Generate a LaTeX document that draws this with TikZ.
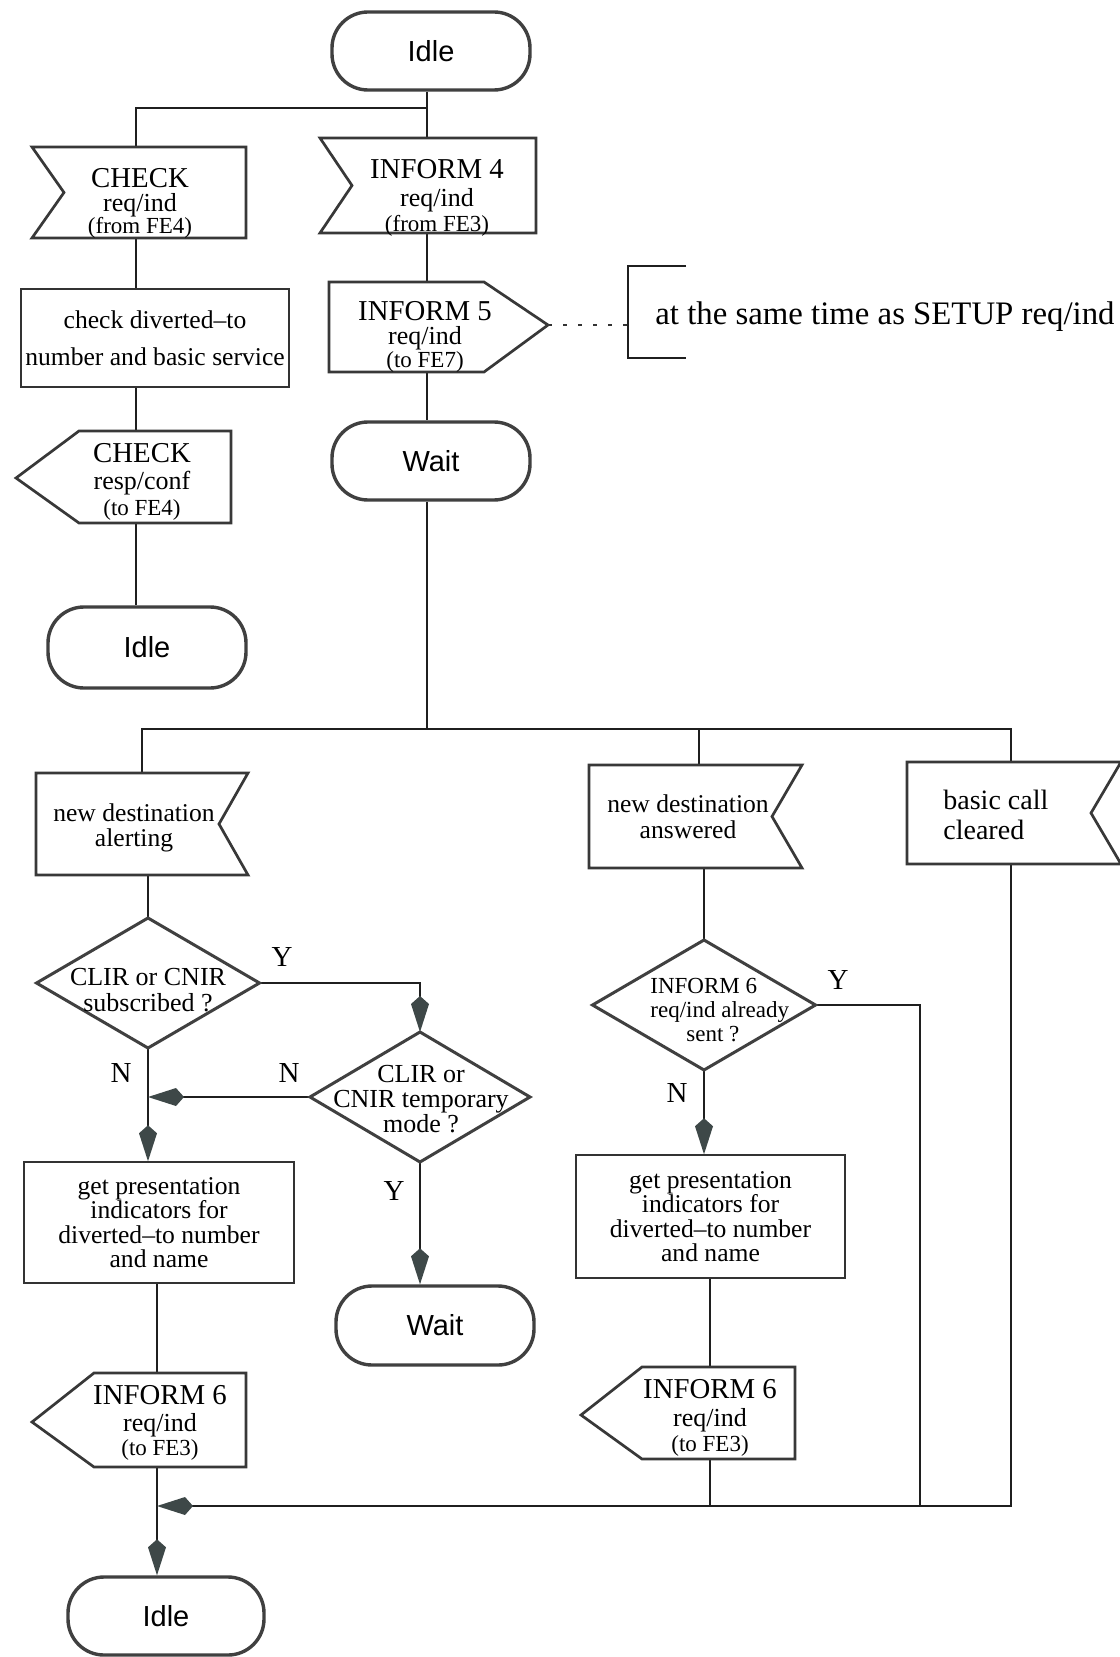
\documentclass[tikz,border=0pt]{standalone}
\usepackage{fontspec}
\setmainfont{Liberation Serif}
\setsansfont{Liberation Sans}
\usetikzlibrary{calc,arrows.meta}

\definecolor{tipgray}{RGB}{62,72,72}

% three-line signal labels: message name, primitive, peer entity
\newcommand{\SigHead}[1]{{\fontsize{14.4}{11}\selectfont #1}}
\newcommand{\SigSub}[1]{{\fontsize{13}{11}\selectfont #1}}
\newcommand{\SigNote}[1]{{\fontsize{11.5}{11}\selectfont #1}}
% fixed line spacing, even where lines come close
\newcommand{\FixedLead}{\lineskiplimit-20pt\relax}

% SDL symbol outlines drawn around a named geometry node
\newcommand{\InNotchL}[2]{\draw[sigline] (#1.north west) -- (#1.north east) -- (#1.south east) -- (#1.south west) -- ($(#1.west)+(#2,0)$) -- cycle;}
\newcommand{\InNotchR}[2]{\draw[sigline] (#1.north west) -- (#1.north east) -- ($(#1.east)+(-#2,0)$) -- (#1.south east) -- (#1.south west) -- cycle;}
\newcommand{\OutTipL}[2]{\draw[sigline] (#2) -- (#1.north west) -- (#1.north east) -- (#1.south east) -- (#1.south west) -- cycle;}
\newcommand{\OutTipR}[2]{\draw[sigline] (#1.north west) -- (#1.north east) -- (#2) -- (#1.south east) -- (#1.south west) -- cycle;}
\newcommand{\Rhombus}[1]{\draw[diamline] (#1.north) -- (#1.east) -- (#1.south) -- (#1.west) -- cycle;}

\tikzset{
  geo/.style={inner sep=0pt, outer sep=0pt},
  sigline/.style={draw=black!78, line width=1.35pt, line join=miter},
  diamline/.style={draw=black!75, line width=1.5pt, line join=miter},
  procbox/.style={draw=black!80, line width=0.75pt, inner sep=0pt, align=center,
    font=\fontsize{12.8}{12.2}\selectfont},
  term/.style={draw=black!75, line width=1.7pt, rounded corners=18pt, inner sep=0pt,
    font=\sffamily\fontsize{14.5}{16}\selectfont},
  conn/.style={draw=black!88, line width=1pt},
  arr/.style={conn, -{Kite[length=18pt, width=9pt, inset=4pt, color=tipgray]}},
  sigtext/.style={align=center, inner sep=0pt},
  lead/.style={font=\fontsize{12.5}{#1}\selectfont\FixedLead},
  labtext/.style={align=center, inner sep=0pt, font=\fontsize{12.8}{12.8}\selectfont},
  diamtext/.style={align=center, inner sep=0pt, font=\fontsize{13}{12.8}\selectfont},
  yn/.style={inner sep=0pt, font=\fontsize{14.5}{16}\selectfont},
  note/.style={anchor=west, inner sep=0pt, font=\fontsize{16.4}{18}\selectfont},
  dots/.style={draw=black!80, line width=1pt, dash pattern=on 2pt off 5.5pt},
}

\begin{document}
\begin{tikzpicture}[x=0.5pt, y=-0.5pt]
\useasboundingbox (0,0) rectangle (1119,1657);
\fill[white] (0,0) rectangle (1119,1657);

% x positions of the vertical flow lines
\coordinate (xA) at (136,0);
\coordinate (xB) at (427,0);
\coordinate (xC) at (142,0);
\coordinate (xL) at (157,0);
\coordinate (xE) at (699,0);
\coordinate (xR) at (710,0);
\coordinate (xF) at (920,0);
\coordinate (xG) at (1011,0);
\coordinate (j1) at (427,108);
\coordinate (j2) at (427,729);
\coordinate (mrg) at (157,1506);

% pointed ends of output signals
\coordinate (inf5-tip) at (548,325);
\coordinate (resp-tip) at (16,478);
\coordinate (inf6l-tip) at (32,1422);
\coordinate (inf6r-tip) at (581,1415);
\coordinate (brk) at (628,325);

% ---------- states ----------
\node[term, minimum width=99pt, minimum height=39pt] (idle1) at (431,51) {Idle};
\node[term, minimum width=99pt, minimum height=39pt] (wait1) at (431,461) {Wait};
\node[term, minimum width=99pt, minimum height=40.5pt] (idle2) at (147,647.5) {Idle};
\node[term, minimum width=99pt, minimum height=39.5pt] (wait2) at (435,1325.5) {Wait};
\node[term, minimum width=98pt, minimum height=39pt] (idle3) at (166,1616) {Idle};

% ---------- signal and decision geometry ----------
\node[geo, minimum width=107pt, minimum height=45.5pt] (chk) at (139,192.5) {};
\node[geo, minimum width=108pt, minimum height=47.5pt] (inf4) at (428,185.5) {};
\node[geo, minimum width=77.5pt, minimum height=45pt] (inf5) at (406.5,327) {};
\node[geo, minimum width=76pt, minimum height=46pt] (resp) at (155,477) {};
\node[geo, minimum width=106pt, minimum height=51pt] (alert) at (142,824) {};
\node[geo, minimum width=106.5pt, minimum height=51.5pt] (answ) at (695.5,816.5) {};
\node[geo, minimum width=107pt, minimum height=51pt] (bcc) at (1014,813) {};
\node[geo, minimum width=111.5pt, minimum height=65pt] (d1) at (148,983) {};
\node[geo, minimum width=110pt, minimum height=65pt] (d2) at (420,1097) {};
\node[geo, minimum width=111.5pt, minimum height=65pt] (d3) at (704,1005) {};
\node[geo, minimum width=76pt, minimum height=47pt] (inf6l) at (170,1420) {};
\node[geo, minimum width=76.5pt, minimum height=46pt] (inf6r) at (718.5,1413) {};

% ---------- tasks ----------
\node[procbox, minimum width=134pt, minimum height=49pt,
  font=\fontsize{12.8}{18.5}\selectfont] (box1) at (155,338)
  {check diverted--to\\number and basic service};
\node[procbox, minimum width=135pt, minimum height=60.5pt] (box2) at (159,1222.5)
  {get presentation\\indicators for\\diverted--to number\\and name};
\node[procbox, minimum width=134.5pt, minimum height=61.5pt] (box3) at (710.5,1216.5)
  {get presentation\\indicators for\\diverted--to number\\and name};

% ---------- connectors ----------
\draw[conn] (idle1.south -| xB) -- (j1) -- (j1 -| xA) -- (chk.north -| xA);
\draw[conn] (j1) -- (inf4.north -| j1);
\draw[conn] (chk.south -| xA) -- (box1.north -| xA);
\draw[conn] (box1.south -| xA) -- (resp.north -| xA);
\draw[conn] (resp.south -| xA) -- (idle2.north -| xA);
\draw[conn] (inf4.south -| xB) -- (inf5.north -| xB);
\draw[conn] (inf5.south -| xB) -- (wait1.north -| xB);
\draw[dots] (inf5-tip) -- (brk);

\draw[conn] (wait1.south -| xB) -- (j2);
\draw[conn] (alert.north -| xC) -- (j2 -| xC) -- (j2 -| xG) -- (bcc.north -| xG);
\draw[conn] (j2 -| xE) -- (answ.north -| xE);
\draw[conn] (alert.south -| d1.north) -- (d1.north);
\draw[arr] (d1.south) -- (box2.north -| d1.south);
\draw[arr] (d1.east) -- (d1.east -| d2.north) -- (d2.north);
\draw[arr] (d2.west) -- (d2.west -| d1.south);
\draw[arr] (d2.south) -- (wait2.north -| d2.south);
\draw[conn] (box2.south -| xL) -- (inf6l.north -| xL);
\draw[arr] (inf6l.south -| xL) -- (idle3.north -| xL);
\draw[conn] (answ.south -| d3.north) -- (d3.north);
\draw[arr] (d3.south) -- (box3.north -| d3.south);
\draw[conn] (box3.south -| xR) -- (inf6r.north -| xR);
\draw[conn] (inf6r.south -| xR) -- (mrg -| xR);
\draw[conn] (d3.east) -- (d3.east -| xF) -- (mrg -| xF);
\draw[arr] (bcc.south -| xG) -- (mrg -| xG) -- (mrg);

% ---------- symbol outlines ----------
\InNotchL{chk}{32}
\InNotchL{inf4}{32}
\OutTipR{inf5}{inf5-tip}
\OutTipL{resp}{resp-tip}
\InNotchR{alert}{29}
\InNotchR{answ}{30}
\InNotchR{bcc}{30}
\Rhombus{d1}
\Rhombus{d2}
\Rhombus{d3}
\OutTipL{inf6l}{inf6l-tip}
\OutTipL{inf6r}{inf6r-tip}

% comment bracket
\draw[conn] (686,266) -- (brk |- 0,266) -- (brk |- 0,358) -- (686,358);
\node[note] (note) at (655,317) {at the same time as SETUP req/ind};

% ---------- symbol texts ----------
\node[sigtext, lead=10.8pt] (chk-t) at (140,203.5) {\SigHead{CHECK}\\[1.3pt]\SigSub{req/ind}\\\SigNote{(from FE4)}};
\node[sigtext, lead=12.6pt] (inf4-t) at (437,198) {\SigHead{INFORM 4}\\[1pt]\SigSub{req/ind}\\\SigNote{(from FE3)}};
\node[sigtext, lead=11.9pt] (inf5-t) at (425,337) {\SigHead{INFORM 5}\\\SigSub{req/ind}\\\SigNote{(to FE7)}};
\node[sigtext, lead=13.2pt] (resp-t) at (142,482) {\SigHead{CHECK}\\\SigSub{resp/conf}\\\SigNote{(to FE4)}};
\node[sigtext, lead=12.4pt] (inf6l-t) at (160,1423) {\SigHead{INFORM 6}\\[1pt]\SigSub{req/ind}\\\SigNote{(to FE3)}};
\node[sigtext, lead=12.6pt] (inf6r-t) at (710,1418) {\SigHead{INFORM 6}\\[1pt]\SigSub{req/ind}\\\SigNote{(to FE3)}};
\node[labtext] (alert-t) at (134,828) {new destination\\alerting};
\node[labtext] (answ-t) at (688,817) {new destination\\answered};
\node[labtext, anchor=west, align=left, font=\fontsize{14}{14.8}\selectfont] (bcc-t) at (943,815) {basic call\\cleared};
\node[diamtext] (d1-t) at (148,990) {CLIR or CNIR\\subscribed ?};
\node[diamtext, font=\fontsize{13}{12.5}\selectfont] (d2-t) at (421,1099) {CLIR or\\CNIR temporary\\mode ?};
\node[diamtext, anchor=west, align=left, font=\fontsize{11.5}{12.2}\selectfont] (d3-t) at (650,1010) {INFORM 6\\req/ind already\\\hspace*{18pt}sent ?};

% ---------- branch labels ----------
\node[yn] (y1) at (282,957) {Y};
\node[yn] (n1) at (121,1073) {N};
\node[yn] (n2) at (289,1073) {N};
\node[yn] (y2) at (394,1191) {Y};
\node[yn] (y3) at (838,980) {Y};
\node[yn] (n3) at (677,1093) {N};
\end{tikzpicture}
\end{document}
